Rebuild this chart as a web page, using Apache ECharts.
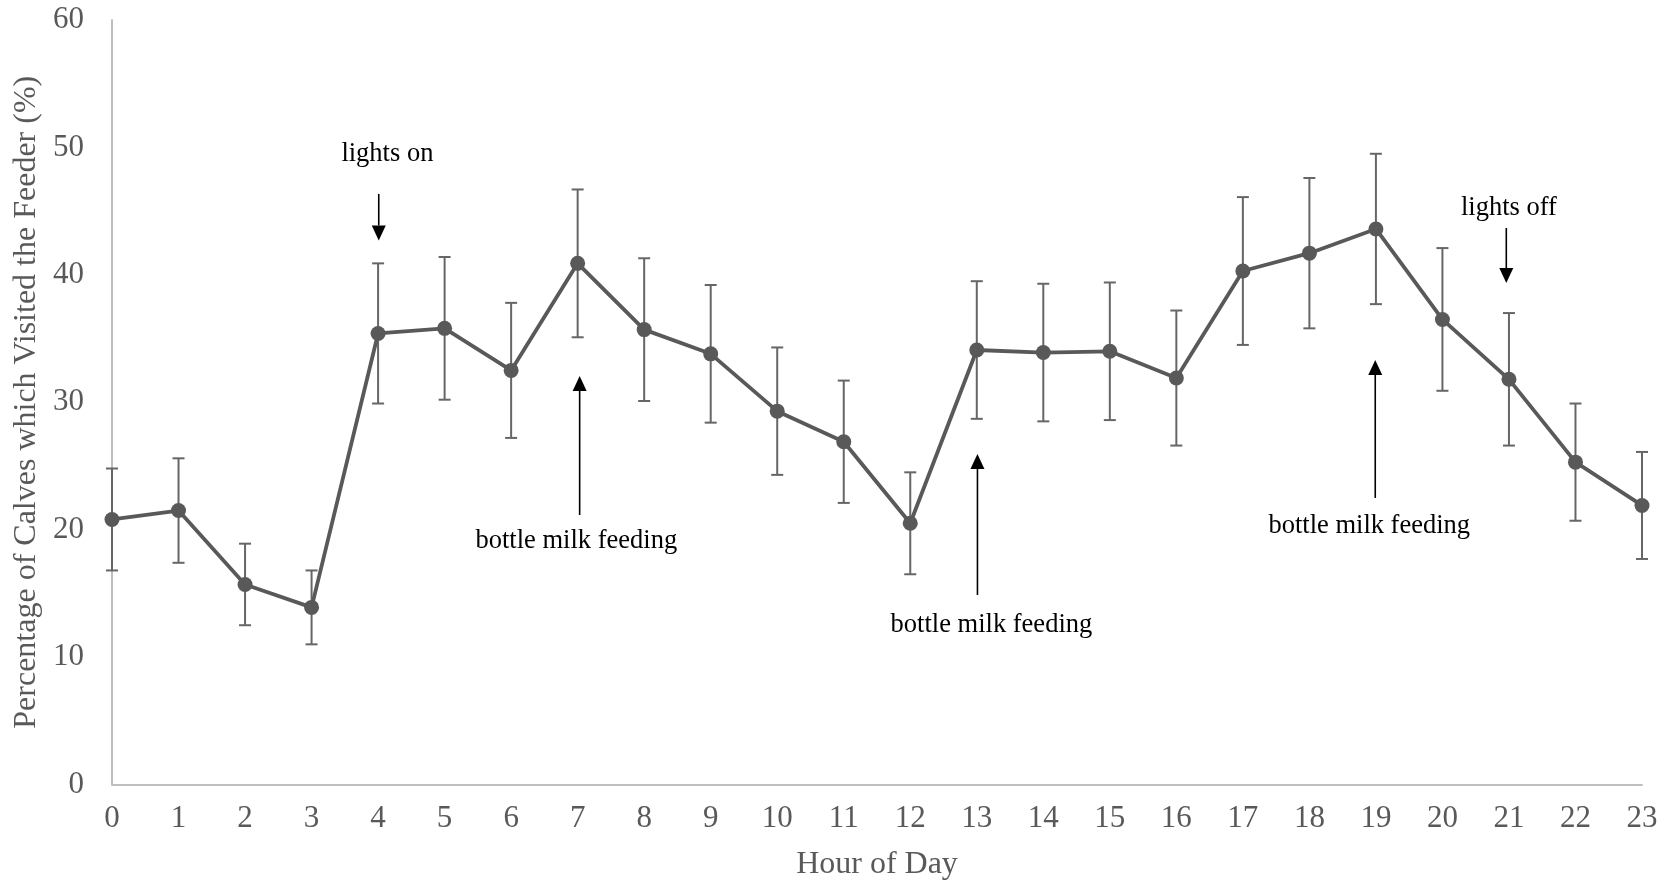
<!DOCTYPE html>
<html>
<head>
<meta charset="utf-8">
<title>Feeder visits by hour of day</title>
<script src="https://cdn.jsdelivr.net/npm/echarts@6/dist/echarts.min.js"></script>
<style>
  html, body { margin: 0; padding: 0; background: #ffffff; }
  #chart { width: 1671px; height: 886px; }
</style>
</head>
<body>
<div id="chart"></div>
<script>
// Hour-of-day categories (x axis tick labels)
const hours = ['0','1','2','3','4','5','6','7','8','9','10','11',
               '12','13','14','15','16','17','18','19','20','21','22','23'];

// Mean percentage of calves that visited the feeder in each hour
const visitPct = [20.8, 21.5, 15.7, 13.9, 35.4, 35.8, 32.5, 40.9, 35.7, 33.8, 29.3, 26.9,
                  20.5, 34.1, 33.9, 34.0, 31.9, 40.3, 41.7, 43.6, 36.5, 31.8, 25.3, 21.9];

// Standard error for each hour (error bars)
const visitSE = [4.0, 4.1, 3.2, 2.9, 5.5, 5.6, 5.3, 5.8, 5.6, 5.4, 5.0, 4.8,
                 4.0, 5.4, 5.4, 5.4, 5.3, 5.8, 5.9, 5.9, 5.6, 5.2, 4.6, 4.2];

// Y axis tick values
const yTicks = [0, 10, 20, 30, 40, 50, 60];

// Event notes, anchored in data units (hour, percentage)
const noteText  = ['lights on', 'bottle milk feeding', 'bottle milk feeding', 'bottle milk feeding', 'lights off'];
const noteHour  = [4.14, 6.98, 13.22, 18.9, 21.0];
const noteTextY = [49.5, 19.1, 12.55, 20.3, 45.25];
const arrowHour = [4.01, 7.03, 13.01, 18.99, 20.96];
const arrowFrom = [46.35, 21.15, 14.87, 22.49, 43.68];
const arrowTo   = [42.7, 32.06, 25.94, 33.32, 39.36];

const FONT = "'Liberation Serif', 'Times New Roman', serif";
const GREY = '#595959';

const chart = echarts.init(document.getElementById('chart'), null, { renderer: 'canvas' });

const lineData = visitPct.map((v, i) => [i, v]);
const errData = visitPct.map((v, i) => [i, v - visitSE[i], v + visitSE[i]]);
const noteData = noteText.map((t, i) => [arrowHour[i], arrowTo[i]]);

chart.setOption({
  animation: false,
  backgroundColor: '#ffffff',
  grid: { left: 112, right: 29, top: 20, bottom: 101.5, containLabel: false },
  xAxis: {
    type: 'value',
    min: 0,
    max: 23,
    interval: 1,
    name: 'Hour of Day',
    nameLocation: 'middle',
    nameGap: 64,
    nameTextStyle: { color: GREY, fontSize: 32, fontFamily: FONT },
    axisLine: { show: true, lineStyle: { color: '#bfbfbf', width: 2 } },
    axisTick: { show: false },
    splitLine: { show: false },
    axisLabel: {
      color: GREY, fontSize: 31, fontFamily: FONT, margin: 19,
      formatter: v => hours[v]
    }
  },
  yAxis: {
    type: 'value',
    min: yTicks[0],
    max: yTicks[yTicks.length - 1],
    interval: yTicks[1] - yTicks[0],
    name: 'Percentage of Calves which Visited the Feeder (%)',
    nameLocation: 'middle',
    nameGap: 65,
    nameRotate: 90,
    nameTextStyle: { color: GREY, fontSize: 32, fontFamily: FONT },
    axisLine: { show: true, lineStyle: { color: '#bfbfbf', width: 2 } },
    axisTick: { show: false },
    splitLine: { show: false },
    axisLabel: { color: GREY, fontSize: 31, fontFamily: FONT, margin: 28 }
  },
  series: [
    {
      // error bars: vertical whisker with horizontal caps
      type: 'custom',
      z: 2,
      data: errData,
      renderItem: function (params, api) {
        const x = api.value(0);
        const lo = api.coord([x, api.value(1)]);
        const hi = api.coord([x, api.value(2)]);
        const cap = 6;
        const style = { stroke: '#666666', lineWidth: 2 };
        return {
          type: 'group',
          children: [
            { type: 'line', shape: { x1: lo[0], y1: lo[1], x2: hi[0], y2: hi[1] }, style: style },
            { type: 'line', shape: { x1: hi[0] - cap, y1: hi[1], x2: hi[0] + cap, y2: hi[1] }, style: style },
            { type: 'line', shape: { x1: lo[0] - cap, y1: lo[1], x2: lo[0] + cap, y2: lo[1] }, style: style }
          ]
        };
      }
    },
    {
      type: 'line',
      z: 3,
      data: lineData,
      symbol: 'circle',
      symbolSize: 15,
      lineStyle: { color: GREY, width: 3.8 },
      itemStyle: { color: GREY },
      emphasis: { disabled: true }
    },
    {
      // event notes with arrows
      type: 'custom',
      z: 4,
      data: noteData,
      clip: false,
      renderItem: function (params, api) {
        const i = params.dataIndex;
        const txt = api.coord([noteHour[i], noteTextY[i]]);
        const a = api.coord([arrowHour[i], arrowFrom[i]]);
        const b = api.coord([arrowHour[i], arrowTo[i]]);
        const dir = b[1] > a[1] ? 1 : -1;
        const headLen = 15, headHalf = 7;
        const baseY = b[1] - dir * headLen;
        return {
          type: 'group',
          children: [
            {
              type: 'text',
              style: {
                text: noteText[i], x: txt[0], y: txt[1],
                textAlign: 'center', textVerticalAlign: 'middle',
                fontSize: 26.5, fontFamily: FONT, fill: '#000000'
              }
            },
            {
              type: 'line',
              shape: { x1: a[0], y1: a[1], x2: b[0], y2: baseY },
              style: { stroke: '#000000', lineWidth: 1.6 }
            },
            {
              type: 'polygon',
              shape: { points: [[b[0], b[1]], [b[0] - headHalf, baseY], [b[0] + headHalf, baseY]] },
              style: { fill: '#000000' }
            }
          ]
        };
      }
    }
  ]
});
</script>
</body>
</html>
